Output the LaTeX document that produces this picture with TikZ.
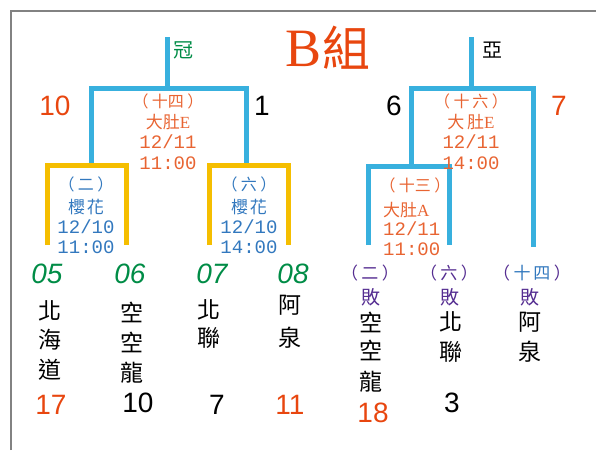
\documentclass[tikz,border=0pt]{standalone}
\usepackage{fontspec}
\setmainfont{Liberation Sans}
\newfontfamily\cjk{Noto Sans CJK TC}
\newfontfamily\monof{Liberation Mono}
\newfontfamily\serifB{Liberation Serif}
\newcommand\parx[1]{（\hspace{3.5pt}#1\hspace{3.5pt}）}
\definecolor{lineblue}{RGB}{56,176,222}
\definecolor{lineyel}{RGB}{245,190,0}
\definecolor{titleor}{RGB}{232,70,15}
\definecolor{matchor}{RGB}{232,100,50}
\definecolor{matchbl}{RGB}{50,120,190}
\definecolor{numgreen}{RGB}{0,140,70}
\definecolor{losspur}{RGB}{85,45,145}
\definecolor{framegray}{RGB}{130,130,130}
\tikzset{
  txt/.style={inner sep=0pt, anchor=center},
  bline/.style={draw=lineblue, line width=5pt, line join=miter},
  yline/.style={draw=lineyel, line width=5pt, line join=miter},
  big/.style={txt, font=\fontsize{28}{30}\selectfont},
  team/.style={txt, font=\cjk\fontsize{23}{26}\selectfont},
  mcjk/.style={txt, font=\cjk\fontsize{16}{18}\selectfont},
  mnum/.style={txt, font=\monof\fontsize{19}{20}\selectfont},
  seed/.style={txt, text=numgreen, font=\itshape\fontsize{28}{30}\selectfont},
}
\begin{document}
\begin{tikzpicture}[x=1pt,y=-1pt]
\useasboundingbox (0,0) rectangle (596,450);
% frame
\coordinate (fbl) at (11,450);
\coordinate (ftl) at (11,11);
\coordinate (ftr) at (596,11);
\draw[framegray, line width=1.5pt] (fbl) -- (ftl) -- (ftr);

% title
\node[txt, text=titleor] (title) at (328,48) {{\serifB\fontsize{54}{56}\selectfont B}{\cjk\fontsize{48}{50}\selectfont 組}};
\node[txt, text=numgreen, font=\cjk\fontsize{20}{22}\selectfont] (champ) at (183,50) {冠};
\node[txt, font=\cjk\fontsize{20}{22}\selectfont] (second) at (492,50) {亞};

% left bracket coordinates
\coordinate (lstemT) at (167,37);
\coordinate (lstemB) at (167,88);
\coordinate (lL) at (91,88);
\coordinate (lR) at (246,88);
\coordinate (lLb) at (91,165);
\coordinate (lRb) at (246,165);
\draw[bline] (lstemT) -- (lstemB);
\draw[bline] (lLb) -- (lL) -- (lR) -- (lRb);

% yellow brackets
\coordinate (y1a) at (47,245);
\coordinate (y1b) at (47,165);
\coordinate (y1c) at (126,165);
\coordinate (y1d) at (126,245);
\draw[yline] (y1a) -- (y1b) -- (y1c) -- (y1d);
\coordinate (y2a) at (209,245);
\coordinate (y2b) at (209,165);
\coordinate (y2c) at (288,165);
\coordinate (y2d) at (288,245);
\draw[yline] (y2a) -- (y2b) -- (y2c) -- (y2d);

% right bracket
\coordinate (rstemT) at (471,37);
\coordinate (rstemB) at (471,88);
\coordinate (rL) at (411,88);
\coordinate (rR) at (533,88);
\coordinate (rLb) at (411,166);
\coordinate (rRb) at (533,247);
\draw[bline] (rstemT) -- (rstemB);
\draw[bline] (rLb) -- (rL) -- (rR) -- (rRb);
\coordinate (i1) at (368,245);
\coordinate (i2) at (368,166);
\coordinate (i3) at (449,166);
\coordinate (i4) at (449,245);
\draw[bline] (i1) -- (i2) -- (i3) -- (i4);

% top scores
\node[big, text=titleor] (s10) at (55,106) {10};
\node[big] (s1) at (262,106) {1};
\node[big] (s6) at (394,106) {6};
\node[big, text=titleor] (s7) at (559,106) {7};

% match 14
\node[mcjk, text=matchor] (m14a) at (168,101) {\parx{十四}};
\node[txt, text=matchor, font=\fontsize{17}{18}\selectfont] (m14b) at (168,122) {{\cjk 大肚}{\serifB E}};
\node[mnum, text=matchor] (m14c) at (168,142) {12/11};
\node[mnum, text=matchor] (m14d) at (168,163) {11:00};
% match 16
\node[mcjk, text=matchor] (m16a) at (471,101) {\parx{十\,六}};
\node[txt, text=matchor, font=\fontsize{17}{18}\selectfont] (m16b) at (471,122) {{\cjk 大\,肚}{\serifB E}};
\node[mnum, text=matchor] (m16c) at (471,142) {12/11};
\node[mnum, text=matchor] (m16d) at (471,163) {14:00};
% match 2
\node[mcjk, text=matchbl] (m2a) at (86,184) {\parx{二}};
\node[txt, text=matchbl, font=\cjk\fontsize{17}{18}\selectfont] (m2b) at (86,207) {櫻\hspace{2pt}花};
\node[mnum, text=matchbl] (m2c) at (86,227) {12/10};
\node[mnum, text=matchbl] (m2d) at (86,247) {11:00};
% match 6
\node[mcjk, text=matchbl] (m6a) at (249,184) {\parx{六}};
\node[txt, text=matchbl, font=\cjk\fontsize{17}{18}\selectfont] (m6b) at (249,207) {櫻\hspace{2pt}花};
\node[mnum, text=matchbl] (m6c) at (249,227) {12/10};
\node[mnum, text=matchbl] (m6d) at (249,247) {14:00};
% match 13
\node[mcjk, text=matchor] (m13a) at (415,185) {\parx{十三}};
\node[txt, anchor=west, inner sep=0pt, text=matchor, font=\fontsize{17}{18}\selectfont] (m13b) at (383,210) {{\cjk 大肚}{\serifB A}};
\node[mnum, anchor=west, text=matchor] (m13c) at (383,229) {12/11};
\node[mnum, anchor=west, text=matchor] (m13d) at (383,249) {11:00};

% seeds
\node[seed] (n05) at (47,274) {05};
\node[seed] (n06) at (130,274) {06};
\node[seed] (n07) at (212,274) {07};
\node[seed] (n08) at (293,274) {08};

% teams
\node[team] (t1a) at (50,311) {北};
\node[team] (t1b) at (50,340) {海};
\node[team] (t1c) at (50,370) {道};
\node[team] (t2a) at (132,312) {空};
\node[team] (t2b) at (132,342) {空};
\node[team] (t2c) at (132,373) {龍};
\node[team] (t3a) at (209,310) {北};
\node[team] (t3b) at (209,338) {聯};
\node[team] (t4a) at (290,305) {阿};
\node[team] (t4b) at (290,338) {泉};

% bottom scores
\node[big, text=titleor] (b17) at (51,405) {17};
\node[big] (b10) at (138,403) {10};
\node[big] (b7) at (217,405) {7};
\node[big, text=titleor] (b11) at (290,405) {11};

% losers
\node[txt, text=losspur, font=\cjk\fontsize{17}{18}\selectfont] (l2a) at (370,273) {\parx{二}};
\node[txt, text=losspur, font=\cjk\fontsize{19}{20}\selectfont] (l2b) at (371,297) {敗};
\node[team] (l2c) at (371,322) {空};
\node[team] (l2d) at (371,350) {空};
\node[team] (l2e) at (371,382) {龍};
\node[big, text=titleor] (b18) at (373,413) {18};

\node[txt, text=losspur, font=\cjk\fontsize{17}{18}\selectfont] (l6a) at (449,273) {\parx{六}};
\node[txt, text=losspur, font=\cjk\fontsize{19}{20}\selectfont] (l6b) at (450,297) {敗};
\node[team] (l6c) at (451,322) {北};
\node[team] (l6d) at (451,352) {聯};
\node[big] (b3) at (452,403) {3};

\node[txt, font=\cjk\fontsize{17}{18}\selectfont] (l14a) at (532,273) {\textcolor{losspur}{（\hspace{3.5pt}}\textcolor{matchbl}{十\,四}\textcolor{losspur}{\hspace{3.5pt}）}};
\node[txt, text=losspur, font=\cjk\fontsize{19}{20}\selectfont] (l14b) at (530,297) {敗};
\node[team] (l14c) at (530,322) {阿};
\node[team] (l14d) at (530,352) {泉};
\end{tikzpicture}
\end{document}
